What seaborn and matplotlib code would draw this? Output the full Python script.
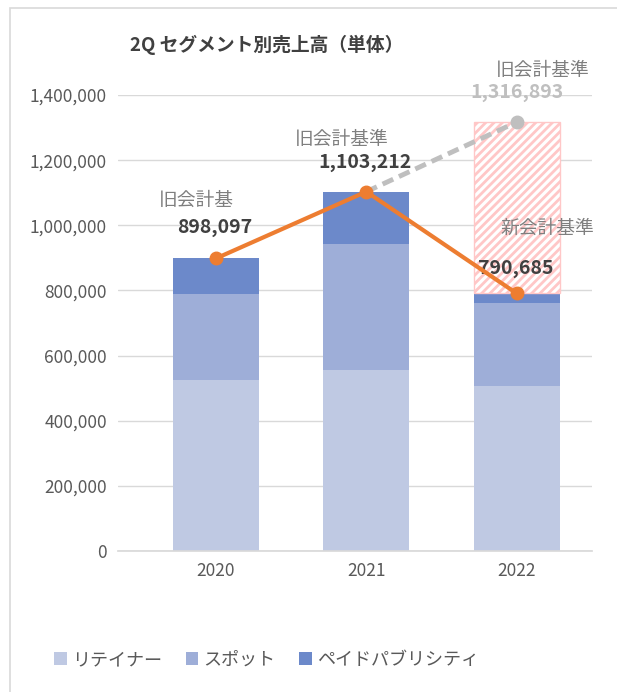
import matplotlib
matplotlib.use("Agg")
import matplotlib.pyplot as plt
import seaborn as sns
import pandas as pd
from matplotlib.patches import Rectangle, Patch
from matplotlib.ticker import FuncFormatter

sns.set_theme(style="white")
plt.rcParams['font.family'] = ['Noto Sans CJK JP', 'DejaVu Sans']
plt.rcParams['hatch.linewidth'] = 2.0

# データ
years = ["2020", "2021", "2022"]
retainer = [525000, 556000, 507000]
spot = [264000, 387000, 253000]
totals = [898097, 1103212, 790685]
old_total_2022 = 1316893
series_names = ["リテイナー", "スポット", "ペイドパブリシティ"]
colors = ["#BFC9E3", "#9EAED8", "#6C89CA"]

df = pd.DataFrame({"年": years, "リテイナー": retainer, "スポット": spot, "合計": totals})
df["リテイナー+スポット"] = df["リテイナー"] + df["スポット"]

fig = plt.figure(figsize=(6.17, 6.92), dpi=100)
ax = fig.add_axes([118 / 617, 1 - 551 / 692, 474 / 617, 456 / 692])

# 積み上げ棒（合計→下位系列の順に重ねる）
bar_kw = dict(width=0.57, ax=ax, saturation=1, linewidth=0)
sns.barplot(data=df, x="年", y="合計", color=colors[2], **bar_kw)
sns.barplot(data=df, x="年", y="リテイナー+スポット", color=colors[1], **bar_kw)
sns.barplot(data=df, x="年", y="リテイナー", color=colors[0], **bar_kw)

# 旧会計基準との差分（ハッチ）
ax.bar(2, old_total_2022 - totals[2], bottom=totals[2], width=0.57,
       color="white", edgecolor="#FFC7C7", hatch="////", linewidth=1.0, zorder=2)

# 折れ線
ax.plot([1, 2], [totals[1], old_total_2022], color="#BFBFBF", lw=3.5,
        ls=(0, (2.4, 1.3)), marker="o", ms=9, markevery=[1], zorder=4)
ax.plot([0, 1, 2], totals, color="#ED7D31", lw=3, marker="o", ms=9, zorder=5)

# 注記
lab = dict(ha="center", va="center", textcoords="offset points")
jp = dict(color="#7F7F7F", fontsize=13.5)
num = dict(color="#404040", fontweight="bold", fontsize=14)
ax.annotate("旧会計基", (0, totals[0]), xytext=(-14, 42), **lab, **jp)
ax.annotate("898,097", (0, totals[0]), xytext=(-1, 22), **lab, **num)
ax.annotate("旧会計基準", (1, totals[1]), xytext=(-18, 38), **lab, **jp)
ax.annotate("1,103,212", (1, totals[1]), xytext=(-1, 21), **lab, **num)
ax.annotate("旧会計基準", (2, old_total_2022), xytext=(19, 37), **lab, **jp)
ax.annotate("1,316,893", (2, old_total_2022), xytext=(0, 21), **lab,
            color="#BFBFBF", fontweight="bold", fontsize=14)
ax.annotate("新会計基準", (2, totals[2]), xytext=(22, 47), **lab, **jp)
ax.annotate("790,685", (2, totals[2]), xytext=(-1, 18), **lab, **num)

ax.set_ylim(0, 1400000)
ax.set_xlim(-0.65, 2.5)
ax.set_yticks(range(0, 1400001, 200000))
ax.yaxis.set_major_formatter(FuncFormatter(lambda v, p: f"{int(v):,}"))
ax.grid(axis="y", color="#D9D9D9", lw=1)
ax.set_axisbelow(True)
ax.set_xlabel("")
ax.set_ylabel("")
ax.tick_params(axis="both", labelsize=12.5, colors="#595959", length=0, pad=8)
sns.despine(ax=ax, left=True, bottom=False)
ax.spines["bottom"].set_color("#D9D9D9")

fig.text(0.432, 1 - 45 / 692, "2Q セグメント別売上高（単体）", ha="center", va="center",
         fontsize=13.5, fontweight="bold", color="#404040")

handles = [Patch(facecolor=c, edgecolor="none") for c in colors]
fig.legend(handles, series_names, loc="center", bbox_to_anchor=(0.432, 1 - 660 / 692), ncol=3,
           frameon=False, fontsize=13, labelcolor="#595959", handlelength=0.7, handleheight=0.7,
           handletextpad=0.3, columnspacing=1.3)

# 外枠
fig.patches.append(Rectangle((10 / 617, -0.05), 1.0, 1 - 8 / 692 + 0.05, transform=fig.transFigure,
                             fill=False, edgecolor="#D9D9D9", lw=1.2))

fig.savefig("out.png", dpi=100)
